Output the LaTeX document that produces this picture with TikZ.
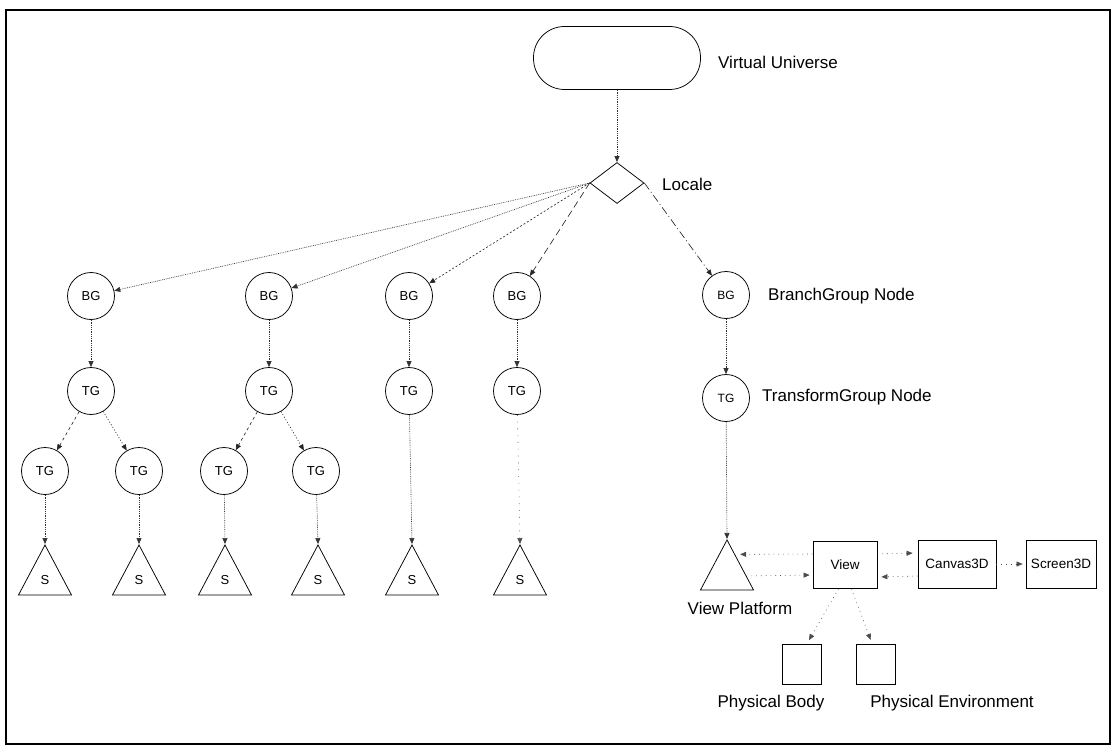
\documentclass[tikz,border=0pt]{standalone}
\usepackage{fontspec}
\setmainfont{Liberation Sans}
\usetikzlibrary{arrows.meta,shapes.geometric,calc}

\begin{document}
\begin{tikzpicture}[
    x=1pt, y=-1pt,
    tip/.tip={Triangle[length=6pt,width=5pt]},
    conn/.style={draw=black!80, line width=0.65pt, dash pattern=on 0.8pt off 1pt, -tip},
    sparse/.style={draw=black!70, line width=0.6pt, dash pattern=on 0.8pt off 4pt, -tip},
    dashconn/.style={draw=black!85, line width=0.65pt, dash pattern=on 3pt off 3pt, -tip},
    longdash/.style={draw=black!85, line width=0.65pt, dash pattern=on 7pt off 4pt, -tip},
    dashdot/.style={draw=black!85, line width=0.65pt, dash pattern=on 8pt off 3pt on 1pt off 3pt, -tip},
    grp/.style={circle, draw, line width=0.75pt, minimum size=47pt, inner sep=0pt, font=\fontsize{13}{15}\selectfont},
    shp/.style={isosceles triangle, shape border rotate=90, isosceles triangle stretches,
                draw, line width=0.75pt, minimum width=53pt, minimum height=50pt, inner sep=0pt,
                font=\fontsize{13}{15}\selectfont},
    box/.style={rectangle, draw, line width=0.75pt, inner sep=0pt, font=\fontsize{13.5}{15}\selectfont},
    lbl/.style={anchor=west, inner sep=0pt, font=\fontsize{17}{20}\selectfont},
    clbl/.style={inner sep=0pt, font=\fontsize{17}{20}\selectfont}
  ]
  \useasboundingbox (0,0) rectangle (1113,754);
  % outer frame
  \draw[line width=1.4pt] (6,10) rectangle (1110,744);

  % universe and locale
  \node[draw, line width=0.75pt, rectangle, rounded corners=31pt, minimum width=167pt, minimum height=63pt] (vu) at (617,58) {};
  \node[lbl] (vul) at (718,62) {Virtual Universe};
  \node[diamond, draw, line width=0.75pt, minimum width=54pt, minimum height=41pt, inner sep=0pt] (loc) at (617,183) {};
  \node[lbl] (locl) at (662,184) {Locale};
  \draw[conn] (vu) -- (loc);

  % branch groups
  \node[grp] (bg1) at (91,296) {BG};
  \node[grp] (bg2) at (269,296) {BG};
  \node[grp] (bg3) at (409,296) {BG};
  \node[grp] (bg4) at (517,296) {BG};
  \node[grp, font=\fontsize{12}{14}\selectfont] (bg5) at (726,295) {BG};
  \node[lbl] (bgl) at (768,296) {BranchGroup Node};

  \draw[conn] (loc.west) -- (bg1);
  \draw[conn] (loc.west) -- (bg2);
  \draw[dashconn, dash pattern=on 2pt off 2pt] (loc.west) -- (bg3);
  \draw[longdash] (loc.west) -- (bg4);
  \draw[dashdot] (loc.east) -- (bg5);

  % transform groups
  \node[grp] (tg1) at (91,391) {TG};
  \node[grp] (tg2) at (269,391) {TG};
  \node[grp] (tg3) at (409,391) {TG};
  \node[grp] (tg4) at (517,391) {TG};
  \node[grp, font=\fontsize{12}{14}\selectfont] (tg5) at (726,398) {TG};
  \node[lbl] (tgl) at (762,397) {TransformGroup Node};

  \foreach \i in {1,...,5} \draw[conn] (bg\i) -- (tg\i);

  \node[grp] (tg11) at (45,471) {TG};
  \node[grp] (tg12) at (139,471) {TG};
  \node[grp] (tg21) at (224,471) {TG};
  \node[grp] (tg22) at (316,471) {TG};
  \draw[dashconn] (tg1) -- (tg11);
  \draw[dashconn, dash pattern=on 1pt off 2pt] (tg1) -- (tg12);
  \draw[dashconn] (tg2) -- (tg21);
  \draw[dashconn, dash pattern=on 1pt off 2pt] (tg2) -- (tg22);

  % shapes
  \node[shp] (s1) at (45,580) {S};
  \node[shp] (s2) at (139,580) {S};
  \node[shp] (s3) at (225,580) {S};
  \node[shp] (s4) at (318,580) {S};
  \node[shp] (s5) at (412,580) {S};
  \node[shp] (s6) at (520,580) {S};
  \draw[conn] (tg11) -- (s1.apex);
  \draw[conn] (tg12) -- (s2.apex);
  \draw[conn] (tg21) -- (s3.apex);
  \draw[conn] (tg22) -- (s4.apex);
  \draw[conn] (tg3) -- (s5.apex);
  \draw[sparse, dash pattern=on 0.8pt off 6pt] (tg4) -- (s6.apex);

  % view side
  \node[shp] (vp) at (727,574) {};
  \node[clbl] (vpl) at (740,608) {View Platform};
  \draw[conn] (tg5) -- (vp.apex);

  \node[box, minimum width=64pt, minimum height=47pt] (view) at (845,565) {View};
  \node[box, minimum width=78pt, minimum height=48pt] (canvas) at (957,564) {Canvas3D};
  \node[box, minimum width=70pt, minimum height=48pt] (screen) at (1061,564) {Screen3D};
  \node[box, minimum width=39pt, minimum height=40pt] (body) at (802,664) {};
  \node[box, minimum width=39pt, minimum height=40pt] (env) at (876,664) {};
  \node[clbl] (bodyl) at (771,703) {Physical Body};
  \node[clbl] (envl) at (952,703) {Physical Environment};

  \draw[sparse, shorten >=5pt] ([yshift=11pt]view.west) -- ($(vp.apex)!0.3!(vp.right corner)$);
  \draw[sparse, shorten >=3pt] ($(vp.apex)!0.72!(vp.right corner)$) -- ([yshift=-10pt]view.west);
  \draw[sparse, shorten >=4pt] ([yshift=-12pt]canvas.west) -- ([yshift=-12pt]view.east);
  \draw[sparse, shorten >=5pt] ([yshift=11pt]view.east) -- ([yshift=11pt]canvas.west);
  \draw[sparse, shorten >=3pt] (canvas.east) -- (screen.west);
  \draw[sparse, shorten >=4pt] ($(view.south west)!0.4!(view.south east)$) -- ([xshift=5pt]body.north);
  \draw[sparse, shorten >=4pt] ($(view.south west)!0.6!(view.south east)$) -- ([xshift=-4pt]env.north);
\end{tikzpicture}
\end{document}
